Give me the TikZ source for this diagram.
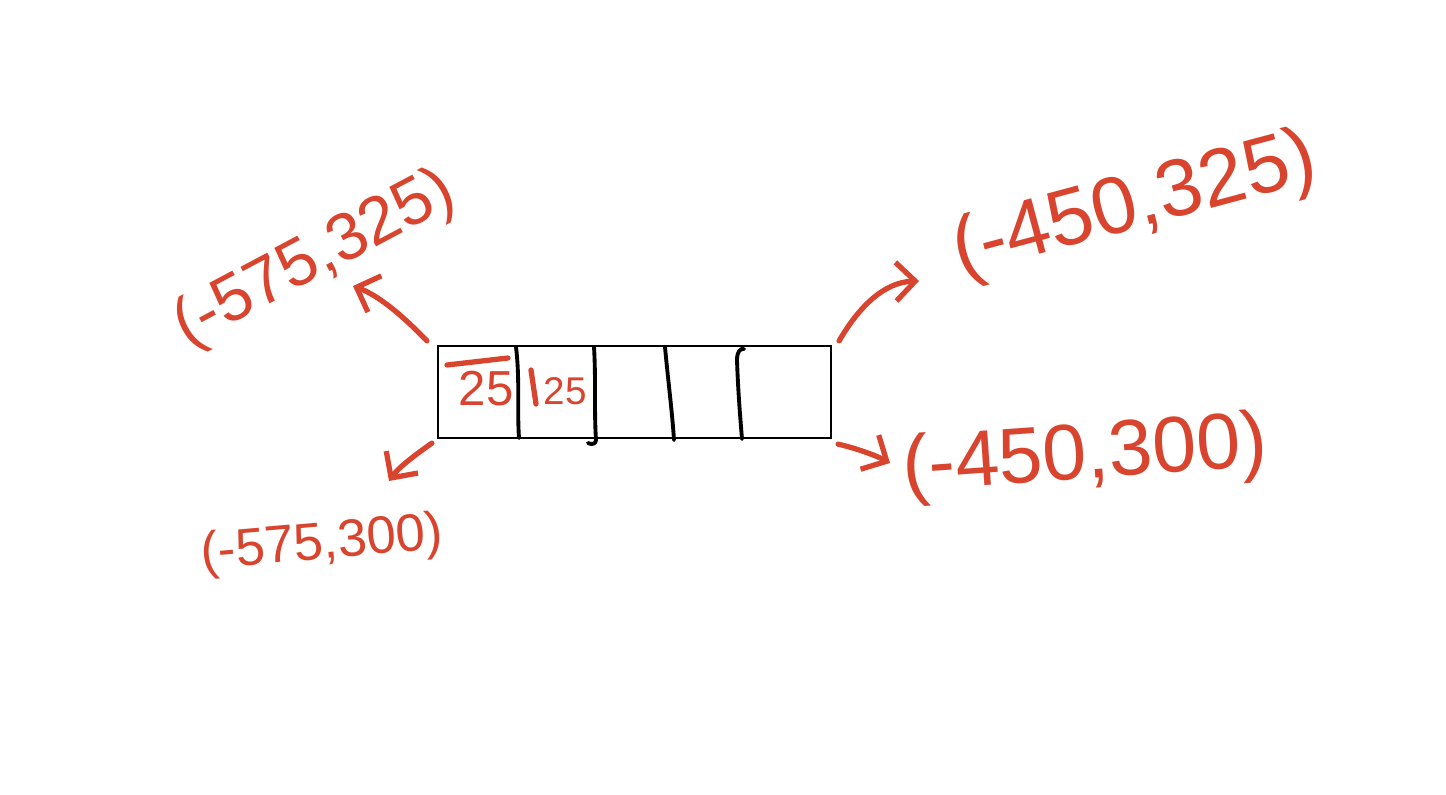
\documentclass[tikz,border=0pt]{standalone}
\usepackage{fontspec}
\setmainfont{Liberation Sans}
\usetikzlibrary{arrows.meta}
\definecolor{ink}{HTML}{D9442F}
\begin{document}
\begin{tikzpicture}[x=0.02cm,y=-0.02cm,
  hand/.style={draw=ink, line width=3pt, line cap=round, line join=round},
  arr/.style={hand, -{Straight Barb[length=11pt,width=22pt]}},
  coordtxt/.style={text=ink, inner sep=0pt},
  pen/.style={draw=black, line width=2.2pt, line cap=round, line join=round}]
\fill[white] (0,0) rectangle (1446,794);
\useasboundingbox (0,0) rectangle (1446,794);
% the box
\node[draw=black, line width=1.3pt, minimum width=7.86cm, minimum height=1.84cm, inner sep=0pt] (box) at (634.5,392) {};
% dividers
\draw[pen] (516,347) .. controls (520,380) and (517,410) .. (519,438);
\draw[pen] (594,347) .. controls (596,380) and (594,410) .. (596,440) .. controls (596,444) and (592,445) .. (588,443);
\draw[pen] (665,347) .. controls (668,380) and (672,410) .. (674,440);
\draw[pen] (744,349) .. controls (740,348) and (737,352) .. (737,360) .. controls (738,390) and (740,415) .. (742,439);
% texts in the box
\node[coordtxt, font=\fontsize{28}{28}\selectfont] (n1) at (486,389) {25};
\draw[hand] (447,365) -- (508,358);
\draw[hand] (531,370) -- (536,404);
\node[coordtxt, font=\fontsize{22}{22}\selectfont] (n2) at (565,391) {25};
% coordinate labels
\node[coordtxt, rotate=28, font=\fontsize{38}{38}\selectfont] (tl) at (315,260) {(-575,325)};
\node[coordtxt, rotate=15, font=\fontsize{46}{46}\selectfont] (tr) at (1135,207) {(-450,325)};
\node[coordtxt, rotate=4, font=\fontsize{45}{45}\selectfont] (br) at (1085,458) {(-450,300)};
\node[coordtxt, rotate=5, font=\fontsize{30}{30}\selectfont] (bl) at (322,545) {(-575,300)};
% arrow ends
\coordinate (tlT) at (353,286);
\coordinate (trT) at (919,281);
\coordinate (blT) at (389,481);
\coordinate (brT) at (890,463);
\draw[arr] ([shift={(-10,-4)}]box.north west) .. controls (405,318) and (380,296) .. (tlT);
\draw[arr] ([shift={(7,-4)}]box.north east) .. controls (860,305) and (885,282) .. (trT);
\draw[arr] ([shift={(-5,4)}]box.south west) .. controls (415,455) and (398,468) .. (blT);
\draw[arr] ([shift={(6,5)}]box.south east) .. controls (855,448) and (875,455) .. (brT);
\end{tikzpicture}
\end{document}
